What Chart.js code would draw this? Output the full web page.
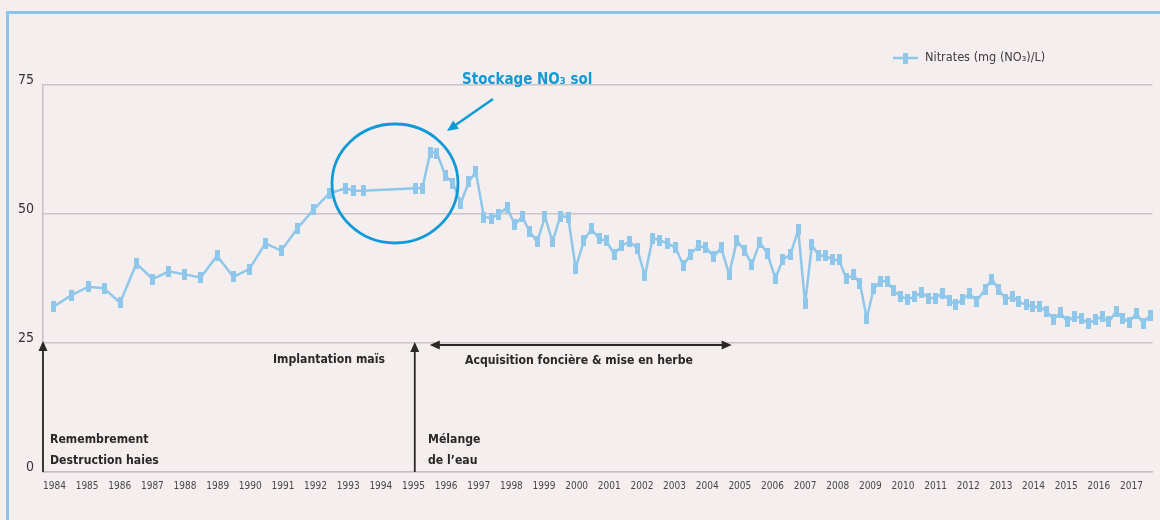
<!DOCTYPE html>
<html lang="fr">
<head>
<meta charset="utf-8">
<title>Nitrates (mg (NO₃)/L)</title>
<script src="https://cdn.jsdelivr.net/npm/chart.js@4.4.1/dist/chart.umd.min.js"></script>
<style>
  html, body { margin: 0; padding: 0; background: #f5eeef; }
  #wrap { position: relative; width: 1160px; height: 520px; overflow: hidden; background: #f5eeef; }
  #frame { position: absolute; left: 6px; top: 11px; right: -10px; bottom: -10px;
           border-top: 3px solid #8dc5ea; border-left: 3px solid #8dc5ea; }
  canvas { position: absolute; left: 0; top: 0; }
</style>
</head>
<body>
<div id="wrap">
  <div id="frame"></div>
  <canvas id="chart" width="1160" height="520"></canvas>
</div>
<script>
// Sampling dates (decimal years) and nitrate concentrations, mg NO3/L
const sampleDates = [
  1983.96, 1984.53, 1985.03, 1985.52, 1986.01, 1986.51, 1987.01, 1987.50, 1987.99, 1988.48,
  1988.98, 1989.48, 1989.97, 1990.46, 1990.95, 1991.44, 1991.93, 1992.42, 1992.93, 1993.15,
  1993.46, 1995.06, 1995.27, 1995.52, 1995.72, 1995.98, 1996.21, 1996.45, 1996.70, 1996.91,
  1997.16, 1997.39, 1997.62, 1997.87, 1998.10, 1998.33, 1998.56, 1998.79, 1999.03, 1999.26,
  1999.50, 1999.74, 1999.97, 2000.22, 2000.45, 2000.69, 2000.91, 2001.15, 2001.38, 2001.63,
  2001.85, 2002.09, 2002.33, 2002.55, 2002.79, 2003.03, 2003.27, 2003.49, 2003.73, 2003.96,
  2004.20, 2004.43, 2004.67, 2004.91, 2005.14, 2005.37, 2005.61, 2005.84, 2006.09, 2006.32,
  2006.55, 2006.79, 2007.00, 2007.21, 2007.42, 2007.63, 2007.84, 2008.04, 2008.26, 2008.48,
  2008.68, 2008.89, 2009.10, 2009.31, 2009.51, 2009.72, 2009.93, 2010.15, 2010.36, 2010.57,
  2010.78, 2010.99, 2011.20, 2011.42, 2011.62, 2011.83, 2012.05, 2012.25, 2012.52, 2012.72,
  2012.93, 2013.14, 2013.36, 2013.54, 2013.78, 2013.98, 2014.19, 2014.41, 2014.62, 2014.83,
  2015.03, 2015.25, 2015.46, 2015.68, 2015.89, 2016.10, 2016.31, 2016.53, 2016.74, 2016.94,
  2017.15, 2017.36, 2017.57
];
const nitrate = [
  32.0, 34.3, 35.9, 35.6, 32.8, 40.4, 37.4, 38.9, 38.3, 37.7,
  41.9, 37.8, 39.3, 44.3, 42.9, 47.2, 50.8, 54.0, 55.0, 54.5,
  54.5, 55.0, 55.0, 62.0, 61.8, 57.4, 56.0, 52.1, 56.3, 58.2,
  49.4, 49.2, 50.0, 51.3, 47.9, 49.5, 46.6, 44.6, 49.5, 44.6,
  49.6, 49.4, 39.5, 44.8, 47.1, 45.2, 44.8, 42.2, 43.9, 44.6,
  43.4, 38.0, 45.3, 44.9, 44.3, 43.5, 40.0, 42.2, 43.8, 43.5,
  41.7, 43.5, 38.3, 44.8, 43.0, 40.2, 44.5, 42.4, 37.5, 41.2,
  42.1, 46.9, 32.7, 44.0, 41.9, 41.9, 41.1, 41.1, 37.5, 38.2,
  36.6, 29.8, 35.5, 37.0, 37.0, 35.1, 34.0, 33.5, 34.0, 34.8,
  33.7, 33.7, 34.6, 33.3, 32.5, 33.5, 34.6, 33.1, 35.4, 37.4,
  35.4, 33.5, 34.0, 33.0, 32.4, 32.0, 32.0, 31.1, 29.6, 30.9,
  29.1, 30.2, 29.8, 28.8, 29.5, 30.1, 29.1, 31.1, 29.8, 29.0,
  30.8, 28.8, 30.4
];
const yearTicks = [
  1984, 1985, 1986, 1987, 1988, 1989, 1990, 1991, 1992, 1993, 1994, 1995,
  1996, 1997, 1998, 1999, 2000, 2001, 2002, 2003, 2004, 2005, 2006, 2007,
  2008, 2009, 2010, 2011, 2012, 2013, 2014, 2015, 2016, 2017
];
const valueTicks = [0, 25, 50, 75];
const seriesLabel = 'Nitrates (mg (NO₃)/L)';

const SERIES_BLUE = '#8fc7ea';
const NOTE_BLUE = '#0f9ad6';
const INK = '#2b2727';
const NARROW = "'DejaVu Sans Condensed', 'Roboto', sans-serif";

// Tall bar marker used for every sample
function barMarker(w, h) {
  const c = document.createElement('canvas');
  c.width = w; c.height = h;
  const g = c.getContext('2d');
  g.fillStyle = SERIES_BLUE;
  g.fillRect(0, 0, w, h);
  return c;
}
const marker = barMarker(5, 11);

function arrowHead(ctx, fromX, fromY, tipX, tipY, len, half) {
  const dx = tipX - fromX, dy = tipY - fromY;
  const d = Math.hypot(dx, dy);
  const ux = dx / d, uy = dy / d;
  const bx = tipX - ux * len, by = tipY - uy * len;
  ctx.beginPath();
  ctx.moveTo(tipX, tipY);
  ctx.lineTo(bx - uy * half, by + ux * half);
  ctx.lineTo(bx + uy * half, by - ux * half);
  ctx.closePath();
  ctx.fill();
}

function arrow(ctx, x1, y1, x2, y2, color, width, len, half, both) {
  const dx = x2 - x1, dy = y2 - y1;
  const d = Math.hypot(dx, dy);
  const ux = dx / d, uy = dy / d;
  ctx.strokeStyle = color;
  ctx.fillStyle = color;
  ctx.lineWidth = width;
  ctx.beginPath();
  ctx.moveTo(both ? x1 + ux * (len - 1) : x1, both ? y1 + uy * (len - 1) : y1);
  ctx.lineTo(x2 - ux * (len - 1), y2 - uy * (len - 1));
  ctx.stroke();
  arrowHead(ctx, x1, y1, x2, y2, len, half);
  if (both) arrowHead(ctx, x2, y2, x1, y1, len, half);
}

// Narrow caption text: condensed face, squeezed a little more horizontally
function caption(ctx, text, x, y, align, squeeze) {
  ctx.save();
  ctx.translate(x, y);
  ctx.scale(squeeze, 1);
  ctx.textAlign = align;
  ctx.fillText(text, 0, 0);
  ctx.restore();
}

// Legend entry and the event annotations drawn over the plot
const notesPlugin = {
  id: 'notes',
  afterDraw(chart) {
    const ctx = chart.ctx;
    const xs = chart.scales.x, ys = chart.scales.y;
    ctx.save();

    // legend
    ctx.strokeStyle = SERIES_BLUE;
    ctx.lineWidth = 2.5;
    ctx.beginPath();
    ctx.moveTo(893, 58); ctx.lineTo(918, 58);
    ctx.stroke();
    ctx.drawImage(marker, 903, 52.5);
    ctx.fillStyle = '#3f3b3c';
    ctx.font = "13px " + NARROW;
    ctx.textBaseline = 'middle';
    caption(ctx, seriesLabel, 925, 58, 'left', 0.97);

    // soil nitrate storage highlight
    ctx.strokeStyle = NOTE_BLUE;
    ctx.lineWidth = 2.8;
    ctx.beginPath();
    ctx.ellipse(395, 183.5, 63, 59.5, 0, 0, Math.PI * 2);
    ctx.stroke();
    arrow(ctx, 493, 99, 447, 131, NOTE_BLUE, 2.5, 11, 5, false);
    ctx.fillStyle = NOTE_BLUE;
    ctx.font = "bold 15px " + NARROW;
    ctx.textBaseline = 'middle';
    caption(ctx, 'Stockage NO₃ sol', 462, 80, 'left', 1);

    // event markers
    const y0 = ys.getPixelForValue(0);
    const y25 = ys.getPixelForValue(25);
    const xStart = xs.left;
    const xMix = xs.getPixelForValue(1995.04);
    arrow(ctx, xStart, y0, xStart, y25 - 2, INK, 1.8, 10, 4.5, false);
    arrow(ctx, xMix, y0, xMix, y25 - 1, INK, 1.8, 10, 4.5, false);
    arrow(ctx, xs.getPixelForValue(1995.5), y25 + 2, xs.getPixelForValue(2004.75), y25 + 2, INK, 1.8, 10, 4.5, true);

    ctx.fillStyle = INK;
    ctx.font = "bold 13px " + NARROW;
    ctx.textBaseline = 'middle';
    const sq = 0.935;
    caption(ctx, 'Remembrement', 50, 440, 'left', sq);
    caption(ctx, 'Destruction haies', 50, 461, 'left', sq);
    caption(ctx, 'Mélange', 428, 440, 'left', sq);
    caption(ctx, 'de l’eau', 428, 461, 'left', sq);
    caption(ctx, 'Implantation maïs', 329, 360, 'center', sq);
    caption(ctx, 'Acquisition foncière & mise en herbe', 579, 361, 'center', sq);
    ctx.restore();
  }
};

new Chart(document.getElementById('chart'), {
  type: 'line',
  data: {
    datasets: [{
      label: seriesLabel,
      data: sampleDates.map((t, i) => ({ x: t, y: nitrate[i] })),
      borderColor: SERIES_BLUE,
      backgroundColor: SERIES_BLUE,
      borderWidth: 2.5,
      borderJoinStyle: 'round',
      tension: 0,
      pointStyle: marker,
      pointRadius: 5,
      pointHoverRadius: 5,
      clip: false
    }]
  },
  options: {
    responsive: false,
    animation: false,
    events: [],
    layout: { padding: { left: 0, right: 7, top: 85, bottom: 0 } },
    plugins: {
      legend: { display: false },
      tooltip: { enabled: false }
    },
    scales: {
      x: {
        type: 'linear',
        min: 1983.648,
        max: 2017.645,
        afterBuildTicks(axis) { axis.ticks = yearTicks.map(v => ({ value: v })); },
        afterFit(axis) { axis.height = 48; },
        grid: { display: false, drawTicks: false },
        border: { display: true, color: '#c6bec1', width: 1.5 },
        ticks: {
          autoSkip: false,
          maxRotation: 0,
          padding: 8,
          color: '#4a4647',
          font: { family: NARROW, size: 10 },
          callback: v => String(v)
        }
      },
      y: {
        min: 0,
        max: 75,
        afterBuildTicks(axis) { axis.ticks = valueTicks.map(v => ({ value: v })); },
        afterFit(axis) { axis.width = 43; },
        grid: { color: '#cbc3c6', lineWidth: 1.5, drawTicks: false },
        border: { display: true, color: '#c6bec1', width: 1.5 },
        ticks: {
          padding: 9,
          labelOffset: -5,
          color: '#363233',
          font: { family: NARROW, size: 14 },
          callback: v => String(v)
        }
      }
    }
  },
  plugins: [notesPlugin]
});
</script>
</body>
</html>
